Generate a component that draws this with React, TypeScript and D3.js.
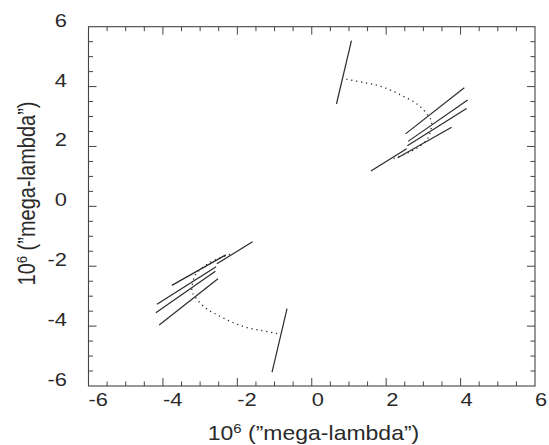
import React from "react";
import * as d3 from "d3";

// uv baseline tracks (upper-right half); the lower-left half is the conjugate (-u,-v)
const trackU0 = [0.664, 2.52, 2.59, 2.57, 2.31, 1.59];
const trackV0 = [3.418, 2.42, 2.17, 2.02, 1.62, 1.18];
const trackU1 = [1.067, 4.10, 4.19, 4.16, 3.76, 2.55];
const trackV1 = [5.535, 3.96, 3.55, 3.27, 2.64, 1.92];

// dotted elliptical arc (upper-right half)
const arcU = [0.93, 1.335, 1.74, 2.12, 2.5, 2.86, 3.13, 3.22, 3.16, 3.06, 2.79, 2.5, 2.16];
const arcV = [4.25, 4.15, 4.05, 3.88, 3.65, 3.39, 3.03, 2.83, 2.38, 2.18, 1.92, 1.74, 1.58];

const tickLabels = ["-6", "-4", "-2", "0", "2", "4", "6"];
const tickValues = [-6, -4, -2, 0, 2, 4, 6];

const W = 549, H = 445;
const X0 = 88.5, X1 = 535, Y0 = 26.7, Y1 = 386;
const ink = "#2a2a2a";
const SX = 1.15;

export default function App() {
  const x = d3.scaleLinear().domain([-6, 6]).range([X0, X1]);
  const y = d3.scaleLinear().domain([-6, 6]).range([Y1, Y0]);
  const minor = d3.range(-5.5, 6, 0.5);
  const isMajor = (v: number) => Math.abs(v % 2) < 1e-9;

  const segs: { a: [number, number]; b: [number, number] }[] = [];
  trackU0.forEach((_, i) => {
    segs.push({ a: [trackU0[i], trackV0[i]], b: [trackU1[i], trackV1[i]] });
    segs.push({ a: [-trackU0[i], -trackV0[i]], b: [-trackU1[i], -trackV1[i]] });
  });
  const arcPts: [number, number][] = arcU.map((u, i) => [u, arcV[i]]);
  const arcNeg: [number, number][] = arcPts.map(([u, v]) => [-u, -v]);
  const line = d3
    .line<[number, number]>()
    .x((d) => x(d[0]))
    .y((d) => y(d[1]))
    .curve(d3.curveCatmullRom.alpha(0.5));

  const font = "'Liberation Sans', Arial, Helvetica, sans-serif";
  const title = (
    <>
      10<tspan dy={-7} fontSize={13}>6</tspan>
      <tspan dy={7}> (”mega-lambda”)</tspan>
    </>
  );

  return (
    <svg width={W} height={H} style={{ position: "absolute", left: 0, top: 0 }} fontFamily={font}>
      <rect width={W} height={H} fill="#fff" />
      {/* dotted arcs */}
      {[arcPts, arcNeg].map((p, i) => (
        <path key={i} d={line(p) || ""} fill="none" stroke="#222" strokeWidth={1.3}
          strokeDasharray="1.2 3.8" strokeLinecap="butt" />
      ))}
      {/* track segments */}
      {segs.map((s, i) => (
        <line key={i} x1={x(s.a[0])} y1={y(s.a[1])} x2={x(s.b[0])} y2={y(s.b[1])}
          stroke={ink} strokeWidth={1.2} />
      ))}
      {/* frame */}
      <rect x={X0} y={Y0} width={X1 - X0} height={Y1 - Y0} fill="none" stroke="#444" strokeWidth={1.1} />
      {minor.map((v) => {
        const L = isMajor(v) ? 8 : 4.5;
        return (
          <g key={v} stroke="#444" strokeWidth={1}>
            <line x1={x(v)} x2={x(v)} y1={Y1} y2={Y1 - L} />
            <line x1={x(v)} x2={x(v)} y1={Y0} y2={Y0 + L} />
            <line y1={y(v)} y2={y(v)} x1={X0} x2={X0 + L} />
            <line y1={y(v)} y2={y(v)} x1={X1} x2={X1 - L} />
          </g>
        );
      })}
      {/* x tick labels */}
      {tickValues.map((v, i) => (
        <text key={"x" + v} transform={`translate(${x(v)},${406}) scale(${SX},1)`}
          fontSize={19} fill={ink} textAnchor="start">{tickLabels[i]}</text>
      ))}
      {tickValues.map((v, i) => (
        <text key={"y" + v} transform={`translate(${67},${y(v) + 0}) scale(${SX},1)`}
          fontSize={19} fill={ink} textAnchor="end">{tickLabels[i]}</text>
      ))}
      <text transform={`translate(${313.5},${440}) scale(${SX},1)`} fontSize={20} fill={ink}
        textAnchor="middle">{title}</text>
      <text transform={`translate(${35},${193.5}) scale(${SX},1) rotate(-90)`} fontSize={20} fill={ink}
        textAnchor="middle">{title}</text>
    </svg>
  );
}
